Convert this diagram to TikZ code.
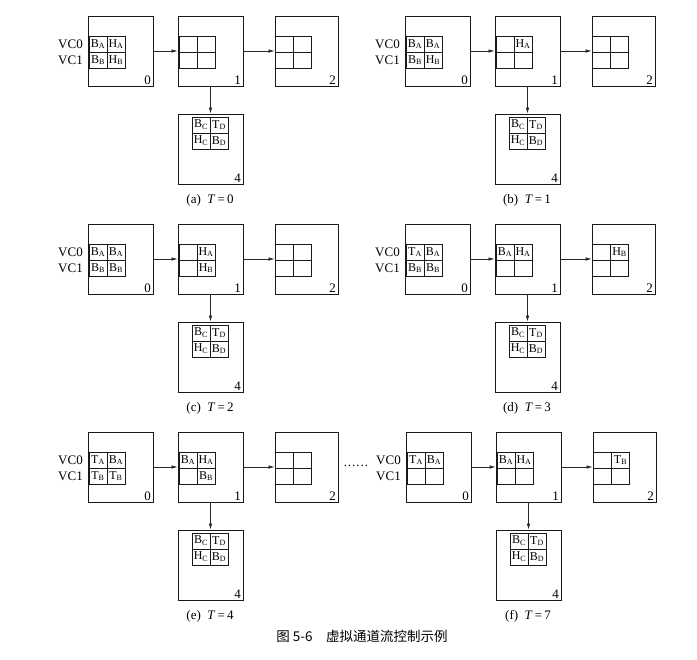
\documentclass[tikz,border=0pt]{standalone}
\usepackage{fontspec}
\setmainfont{Liberation Serif}
\newfontfamily\cjkfont{Noto Sans CJK SC}
\usetikzlibrary{arrows.meta,positioning}

% flit with its packet letter
\newcommand{\fl}[2]{#1\textsubscript{#2}}
% 2x2 virtual-channel buffer: [left edge] {name}{x}{y}{VC0 a}{VC0 b}{VC1 a}{VC1 b}
\newcommand{\vcbuf}[8][buf]{%
  \draw[buf] (#3,#4) rectangle ++(36,32);
  \draw[buf] (#3+18,#4) -- ++(0,32) (#3,#4+16) -- ++(36,0);
  \draw[#1] (#3,#4) -- ++(0,32);
  \node[flit] (#2-11) at (#3+9,#4+8) {#5};
  \node[flit] (#2-12) at (#3+27,#4+8) {#6};
  \node[flit] (#2-21) at (#3+9,#4+24) {#7};
  \node[flit] (#2-22) at (#3+27,#4+24) {#8};
}

\begin{document}
\begin{tikzpicture}[
    x=1pt,
    y=-1pt,
    every node/.style={font=\fontsize{13}{15}\selectfont},
    router/.style={draw=black!90, line width=0.9pt, minimum width=65pt, minimum height=70pt, inner sep=0pt},
    link/.style={-{Latex[length=6pt,width=3.5pt]}, draw=black!85, line width=0.6pt},
    buf/.style={draw=black!90, line width=0.7pt},
    inport/.style={draw=black!90, line width=1.8pt},
    flit/.style={inner sep=0pt, font=\fontsize{12}{13}\selectfont},
    rid/.style={anchor=south east, inner xsep=2.5pt, inner ysep=1.5pt},
    vclab/.style={anchor=east, inner sep=0pt}
  ]
    \useasboundingbox (0,0) rectangle (697,660);

    \foreach \pn/\px/\py/\tn in {a/88/16/0, b/405/16/1, c/88/224/2, d/405/224/3, e/88/432/4, f/406/432/7} {
      \begin{scope}[shift={(\px,\py)}]
        \node[router] (\pn0) at (32.5,35) {};
        \node[router] (\pn1) at (122.5,35) {};
        \node[router, minimum width=63pt] (\pn2) at (218.5,35) {};
        \node[router] (\pn4) at (122.5,133) {};

        \draw[link] (\pn0) -- (\pn1);
        \draw[link] (\pn1) -- (\pn2);
        \draw[link] (\pn1) -- (\pn4);

        \foreach \r in {0,1,2,4}
          \node[rid] (\pn\r id) at (\pn\r.south east) {\r};

        \node[vclab] (\pn vc0) at (-5,28) {VC0};
        \node[vclab] (\pn vc1) at (-5,44) {VC1};

        \vcbuf{\pn4}{104}{101}{\fl BC}{\fl TD}{\fl HC}{\fl BD}

        \node (\pn cap) at (122,184) {(\pn)\enspace\textit{T}\,=\,\tn};
      \end{scope}
    }

    % (a) T=0
    \begin{scope}[shift={(88,16)}]
      \vcbuf[inport]{a0}{1}{20}{\fl BA}{\fl HA}{\fl BB}{\fl HB}
      \vcbuf[inport]{a1}{91}{20}{}{}{}{}
      \vcbuf[inport]{a2}{187.5}{20}{}{}{}{}
    \end{scope}
    % (b) T=1
    \begin{scope}[shift={(405,16)}]
      \vcbuf[inport]{b0}{1}{20}{\fl BA}{\fl BA}{\fl BB}{\fl HB}
      \vcbuf[inport]{b1}{91}{20}{}{\fl HA}{}{}
      \vcbuf[inport]{b2}{187.5}{20}{}{}{}{}
    \end{scope}
    % (c) T=2
    \begin{scope}[shift={(88,224)}]
      \vcbuf[inport]{c0}{1}{20}{\fl BA}{\fl BA}{\fl BB}{\fl BB}
      \vcbuf[inport]{c1}{91}{20}{}{\fl HA}{}{\fl HB}
      \vcbuf[inport]{c2}{187.5}{20}{}{}{}{}
    \end{scope}
    % (d) T=3
    \begin{scope}[shift={(405,224)}]
      \vcbuf[inport]{d0}{1}{20}{\fl TA}{\fl BA}{\fl BB}{\fl BB}
      \vcbuf[inport]{d1}{91}{20}{\fl BA}{\fl HA}{}{}
      \vcbuf[inport]{d2}{187.5}{20}{}{\fl HB}{}{}
    \end{scope}
    % (e) T=4
    \begin{scope}[shift={(88,432)}]
      \vcbuf[inport]{e0}{1}{20}{\fl TA}{\fl BA}{\fl TB}{\fl TB}
      \vcbuf[inport]{e1}{91}{20}{\fl BA}{\fl HA}{}{\fl BB}
      \vcbuf[inport]{e2}{187.5}{20}{}{}{}{}
    \end{scope}
    % (f) T=7
    \begin{scope}[shift={(406,432)}]
      \vcbuf[inport]{f0}{1}{20}{\fl TA}{\fl BA}{}{}
      \vcbuf[inport]{f1}{91}{20}{\fl BA}{\fl HA}{}{}
      \vcbuf[inport]{f2}{187.5}{20}{}{\fl TB}{}{}
    \end{scope}

    \node[anchor=base, inner sep=0pt] (skip) at (356,467) {.\kern1pt.\kern1pt.\kern1pt.\kern1pt.\kern1pt.};

    \node[font=\cjkfont\fontsize{13.5}{15}\selectfont] (title) at (362,636) {图 5-6\quad 虚拟通道流控制示例};
  \end{tikzpicture}
\end{document}
